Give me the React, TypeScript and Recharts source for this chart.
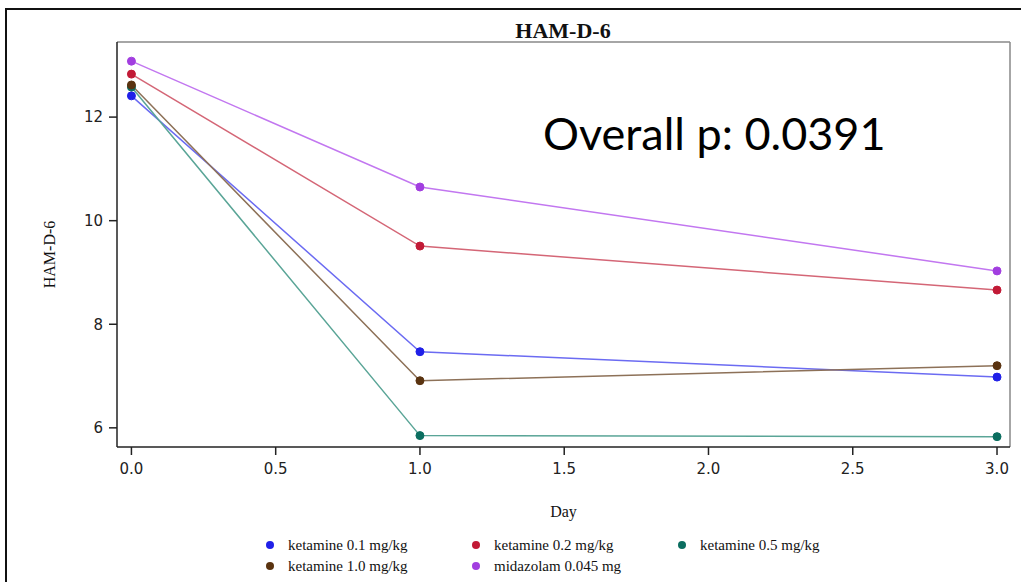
import { LineChart, Line, XAxis, YAxis, ReferenceLine } from "recharts";

// Days on the x axis
const DAYS = [0, 1, 3];

// HAM-D-6 means per group
const KET_01 = [12.41, 7.47, 6.98];
const KET_02 = [12.83, 9.51, 8.66];
const KET_05 = [12.58, 5.85, 5.83];
const KET_10 = [12.62, 6.91, 7.2];
const MIDAZ = [13.08, 10.65, 9.03];

const X_TICKS = [0, 0.5, 1, 1.5, 2, 2.5, 3];
const Y_TICKS = [6, 8, 10, 12];
const X_DOMAIN = [-0.05, 3.045];
const Y_DOMAIN = [5.63, 13.45];

const SERIES = [
  { key: "k01", name: "ketamine 0.1 mg/kg", values: KET_01, dot: "#2020e8", line: "#6b6bf2" },
  { key: "k02", name: "ketamine 0.2 mg/kg", values: KET_02, dot: "#c21a36", line: "#d46676" },
  { key: "k05", name: "ketamine 0.5 mg/kg", values: KET_05, dot: "#0b6e60", line: "#5aa597" },
  { key: "k10", name: "ketamine 1.0 mg/kg", values: KET_10, dot: "#5a3310", line: "#8d7158" },
  { key: "mid", name: "midazolam 0.045 mg", values: MIDAZ, dot: "#a23ee0", line: "#c277f0" },
];

const rows = DAYS.map((d, i) => {
  const r: Record<string, number> = { day: d };
  SERIES.forEach((s) => (r[s.key] = s.values[i]));
  return r;
});

const serif = "'Liberation Serif', 'DejaVu Serif', serif";
const sans = "'DejaVu Sans', sans-serif";

function LegendBox() {
  const item = (s: (typeof SERIES)[number]) => (
    <span key={s.key} style={{ display: "inline-flex", alignItems: "center", width: 206 }}>
      <span
        style={{
          width: 8,
          height: 8,
          borderRadius: 4,
          background: s.dot,
          marginRight: 14,
          display: "inline-block",
        }}
      />
      {s.name}
    </span>
  );
  return (
    <div
      style={{
        position: "absolute",
        left: 266,
        top: 534,
        width: 640,
        fontFamily: serif,
        fontSize: 15,
        color: "#111",
        lineHeight: "20px",
      }}
    >
      <div>{SERIES.slice(0, 3).map(item)}</div>
      <div>{SERIES.slice(3).map(item)}</div>
    </div>
  );
}

export default function App() {
  return (
    <div
      style={{
        position: "fixed",
        left: 0,
        top: 0,
        width: 1021,
        height: 582,
        background: "#fff",
        overflow: "hidden",
      }}
    >
      <div
        style={{
          position: "absolute",
          left: 5,
          top: 8,
          width: 1030,
          height: 600,
          border: "2px solid #111",
          boxSizing: "border-box",
        }}
      />
      <div
        style={{
          position: "absolute",
          top: 18,
          left: 0,
          width: 1126,
          textAlign: "center",
          fontFamily: serif,
          fontWeight: "bold",
          fontSize: 22,
          color: "#111",
        }}
      >
        HAM-D-6
      </div>
      <LineChart
        width={1021}
        height={582}
        data={rows}
        margin={{ top: 42, right: 11, bottom: 95, left: 57 }}
        style={{ position: "absolute", left: 0, top: 0 }}
      >
        <XAxis
          dataKey="day"
          type="number"
          domain={X_DOMAIN}
          ticks={X_TICKS}
          tickFormatter={(v: number) => v.toFixed(1)}
          height={40}
          tickSize={8}
          tickMargin={8}
          stroke="#222"
          strokeWidth={1.5}
          tick={{ fill: "#222", fontFamily: sans, fontSize: 15 }}
          allowDataOverflow
          label={{
            value: "Day",
            position: "insideBottom",
            offset: -30,
            fill: "#111",
            fontFamily: serif,
            fontSize: 16,
          }}
        />
        <YAxis
          type="number"
          domain={Y_DOMAIN}
          ticks={Y_TICKS}
          width={60}
          tickSize={8}
          tickMargin={6}
          stroke="#222"
          strokeWidth={1.5}
          tick={{ fill: "#222", fontFamily: sans, fontSize: 15 }}
          allowDataOverflow
          label={{
            value: "HAM-D-6",
            angle: -90,
            position: "insideLeft",
            offset: -8,
            dy: 10,
            fill: "#111",
            fontFamily: serif,
            fontSize: 16,
            style: { textAnchor: "middle" },
          }}
        />
        <ReferenceLine y={Y_DOMAIN[1]} stroke="#888" strokeWidth={1.5} />
        <ReferenceLine x={X_DOMAIN[1]} stroke="#888" strokeWidth={1.5} />
        {SERIES.map((s) => (
          <Line
            key={s.key}
            dataKey={s.key}
            name={s.name}
            stroke={s.line}
            strokeWidth={1.5}
            dot={{ r: 4, fill: s.dot, stroke: s.dot, strokeWidth: 1 }}
            activeDot={false}
            isAnimationActive={false}
          />
        ))}
      </LineChart>
      <LegendBox />
      <div
        style={{
          position: "absolute",
          left: 543,
          top: 106,
          fontFamily: "Lato, 'Open Sans', sans-serif",
          fontSize: 45,
          color: "#000",
          whiteSpace: "nowrap",
        }}
      >
        Overall p: 0.0391
      </div>
    </div>
  );
}
